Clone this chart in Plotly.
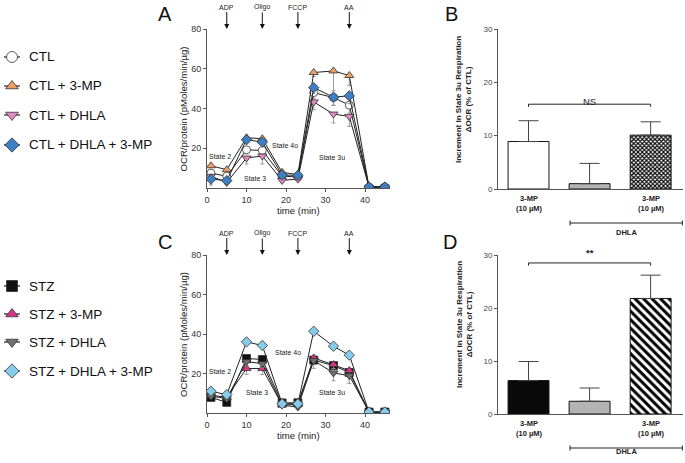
import plotly.graph_objects as go

W, H = 685, 463
FONT = "Arial, Liberation Sans, sans-serif"

# ---------------- data ----------------
time_min = [1, 5, 10, 14, 19, 23, 27, 32, 36, 41, 45]

ctl_names = ["CTL", "CTL + 3-MP", "CTL + DHLA", "CTL + DHLA + 3-MP"]
ctl_vals = [
    [7.5, 5.9, 19.2, 18.9, 6.0, 5.5, 48.0, 45.5, 41.7, 0.5, 0.5],
    [11.2, 9.2, 25.3, 24.8, 7.9, 6.7, 58.1, 58.9, 56.6, 0.5, 0.8],
    [5.9, 2.8, 15.1, 16.1, 3.8, 4.5, 43.3, 37.2, 36.0, 0.3, 0.5],
    [4.5, 3.7, 24.3, 23.1, 6.5, 6.4, 50.5, 45.7, 46.4, 0.5, 0.5],
]
ctl_err = [
    [2.0, 1.5, 2.0, 2.0, 1.0, 1.0, 3.0, 4.0, 4.0, 0, 0],
    [1.0, 1.0, 1.0, 1.0, 1.0, 1.0, 2.0, 10.0, 5.0, 0, 0],
    [2.0, 1.0, 3.0, 4.0, 1.0, 1.0, 4.0, 4.5, 5.0, 0, 0],
    [3.0, 2.0, 1.0, 1.0, 1.0, 1.0, 3.0, 4.0, 4.0, 0, 0],
]

stz_names = ["STZ", "STZ + 3-MP", "STZ + DHLA", "STZ + DHLA + 3-MP"]
stz_vals = [
    [7.9, 5.4, 27.6, 27.1, 5.1, 5.2, 26.8, 24.0, 20.5, 0.5, 0.5],
    [9.0, 8.0, 22.5, 22.5, 4.0, 4.4, 27.9, 24.5, 21.5, 0.3, 0.5],
    [8.5, 7.4, 26.0, 25.0, 4.0, 3.0, 26.6, 20.3, 18.9, 0.5, 0.5],
    [11.0, 9.3, 36.0, 34.2, 4.7, 4.7, 41.4, 33.8, 29.3, 0.5, 0.5],
]
stz_err = [
    [1.0, 1.0, 1.5, 1.5, 1.0, 1.0, 2.0, 2.0, 2.0, 0, 0],
    [1.0, 1.0, 3.0, 3.0, 1.0, 1.0, 2.0, 2.0, 2.0, 0, 0],
    [1.0, 1.0, 2.0, 2.0, 1.0, 1.0, 4.0, 4.0, 4.0, 0, 0],
    [1.0, 1.0, 1.5, 1.0, 1.0, 1.0, 1.0, 1.0, 1.0, 0, 0],
]

injections = ["ADP", "Oligo", "FCCP", "AA"]
injection_times = [5, 14, 23, 36]
state_labels = ["State 2", "State 3", "State 4o", "State 3u"]
state_pos_A = [(3.3, 15.7), (12.2, 5.0), (19.7, 21.3), (31.6, 15.3)]
state_pos_C = [(3.3, 21.0), (12.6, 10.3), (20.5, 30.4), (31.6, 10.3)]

bar_cats = [0, 1, 2]
bar_labels = ["<b>3-MP</b><br><b>(10 µM)</b>", "", "<b>3-MP</b><br><b>(10 µM)</b>"]
B_vals = [8.9, 1.0, 10.1]
B_err = [3.9, 3.8, 2.5]
D_vals = [6.3, 2.4, 21.8]
D_err = [3.6, 2.5, 4.4]

# ---------------- styles ----------------
ctl_sym = ["circle", "triangle-up", "triangle-down", "diamond"]
ctl_col = ["#ffffff", "#EE9E62", "#E38AC2", "#3D7FC2"]
stz_sym = ["square", "triangle-up", "triangle-down", "diamond"]
stz_col = ["#111111", "#D8358A", "#707070", "#86CBEA"]


def px(x):
    return x / W


def py(y):
    return 1 - y / H


fig = go.Figure()

# line panels
for names, vals, errs, syms, cols, xa, ya in [
    (ctl_names, ctl_vals, ctl_err, ctl_sym, ctl_col, "x", "y"),
    (stz_names, stz_vals, stz_err, stz_sym, stz_col, "x3", "y3"),
]:
    for n, v, e, s, c in zip(names, vals, errs, syms, cols):
        fig.add_trace(go.Scatter(
            x=time_min, y=v, name=n, mode="lines+markers",
            line=dict(color="#222222", width=1),
            marker=dict(symbol=s, size=8, color=c, line=dict(color="#333333", width=0.8)),
            error_y=dict(type="data", symmetric=False, array=[0] * len(e), arrayminus=e,
                         color="#9a9a9a", thickness=1, width=2),
            xaxis=xa, yaxis=ya, showlegend=False,
        ))

# bar panels
for vals, errs, xa, ya, kind in [(B_vals, B_err, "x2", "y2", "B"), (D_vals, D_err, "x4", "y4", "D")]:
    first = "#ffffff" if kind == "B" else "#0a0a0a"
    for i, (c, v, e) in enumerate(zip(bar_cats, vals, errs)):
        if i == 0:
            mk = dict(color=first, line=dict(color="#111", width=1))
        elif i == 1:
            mk = dict(color="#b4b4b4", line=dict(color="#111", width=1))
        else:
            if kind == "B":
                mk = dict(color="#ffffff", line=dict(color="#111", width=1),
                          pattern=dict(shape="x", fgcolor="#000", bgcolor="#fff", size=3, solidity=0.6))
            else:
                mk = dict(color="#ffffff", line=dict(color="#111", width=1),
                          pattern=dict(shape="\\", fgcolor="#000", bgcolor="#fff", size=6, solidity=0.5))
        fig.add_trace(go.Bar(
            x=[c], y=[v], width=0.67, marker=mk,
            error_y=dict(type="data", symmetric=False, array=[e], arrayminus=[0],
                         color="#444", thickness=1, width=10),
            xaxis=xa, yaxis=ya, showlegend=False,
        ))

# ---------------- axes ----------------
axfont = dict(family=FONT, size=9, color="#333")
common = dict(showline=True, linecolor="#555", linewidth=1, ticks="outside", ticklen=3,
              tickcolor="#555", showgrid=False, zeroline=False, tickfont=axfont, automargin=False)
barx = dict(showline=True, linecolor="#555", linewidth=1, showgrid=False, zeroline=False,
            tickvals=[], automargin=False)

A_x = [207, 390]
A_y = [29, 188]
C_y = [255, 413]
B_x = [498, 683]
B_y = [29, 189]
D_y = [255, 414]

fig.update_layout(
    template="none",
    width=W, height=H, autosize=False, margin=dict(l=0, r=0, t=0, b=0, pad=0),
    paper_bgcolor="white", plot_bgcolor="rgba(0,0,0,0)",
    font=dict(family=FONT, color="#222"),
    barmode="overlay", showlegend=False,
    xaxis=dict(domain=[px(A_x[0]), px(A_x[1])], range=[0, 46.3], tickvals=[0, 10, 20, 30, 40],
               anchor="y", **common),
    yaxis=dict(domain=[py(A_y[1]), py(A_y[0])], range=[0, 80], tickvals=[20, 40, 60, 80],
               anchor="x", **common),
    xaxis3=dict(domain=[px(A_x[0]), px(A_x[1])], range=[0, 46.3], tickvals=[0, 10, 20, 30, 40],
                anchor="y3", **common),
    yaxis3=dict(domain=[py(C_y[1]), py(C_y[0])], range=[0, 80], tickvals=[20, 40, 60, 80],
                anchor="x3", **common),
    xaxis2=dict(domain=[px(B_x[0]), px(B_x[1])], range=[-0.5, 2.53], anchor="y2", **barx),
    yaxis2=dict(domain=[py(B_y[1]), py(B_y[0])], range=[0, 30], tickvals=[0, 10, 20, 30],
                anchor="x2", **{**common, "tickfont": dict(family=FONT, size=8, color="#444")}),
    xaxis4=dict(domain=[px(B_x[0]), px(B_x[1])], range=[-0.5, 2.53], anchor="y4", **barx),
    yaxis4=dict(domain=[py(D_y[1]), py(D_y[0])], range=[0, 30], tickvals=[0, 10, 20, 30],
                anchor="x4", **{**common, "tickfont": dict(family=FONT, size=8, color="#444")}),
    xaxis5=dict(domain=[0, 1], range=[0, W], visible=False, fixedrange=True, anchor="y5",
                automargin=False),
    yaxis5=dict(domain=[0, 1], range=[H, 0], visible=False, fixedrange=True, anchor="x5",
                automargin=False),
)

# ---------------- legends (drawn manually) ----------------
ctl_leg_y = [57, 86, 115, 145]
stz_leg_y = [286, 314, 342, 371]
for names, syms, cols, ys in [(ctl_names, ctl_sym, ctl_col, ctl_leg_y),
                              (stz_names, stz_sym, stz_col, stz_leg_y)]:
    for n, s, c, yy in zip(names, syms, cols, ys):
        fig.add_trace(go.Scatter(
            x=[4, 20], y=[yy, yy], mode="lines", line=dict(color="#222", width=1.2),
            xaxis="x5", yaxis="y5", showlegend=False, hoverinfo="skip"))
        fig.add_trace(go.Scatter(
            x=[12], y=[yy], mode="markers",
            marker=dict(symbol=s, size=11, color=c, line=dict(color="#333", width=0.8)),
            xaxis="x5", yaxis="y5", showlegend=False, hoverinfo="skip"))
        fig.add_annotation(x=px(27), y=py(yy), xref="paper", yref="paper", text=n,
                           showarrow=False, xanchor="left", yanchor="middle",
                           font=dict(family=FONT, size=13.5, color="#111"))


# ---------------- annotations ----------------
def ann(x, y, text, size, color="#111", **kw):
    d = dict(x=px(x), y=py(y), xref="paper", yref="paper", text=text, showarrow=False,
             xanchor="center", yanchor="middle",
             font=dict(family=FONT, size=size, color=color))
    d.update(kw)
    fig.add_annotation(**d)


# panel letters
ann(165, 14, "A", 20)
ann(451, 14, "B", 20)
ann(165, 242, "C", 20)
ann(450, 242, "D", 20)

# line-plot titles
for top, bot, xa, ya, states in [(A_y[0], A_y[1], "x", "y", state_pos_A),
                                  (C_y[0], C_y[1], "x3", "y3", state_pos_C)]:
    ann(183, (top + bot) / 2, "OCR/protein (pMoles/min/µg)", 9.6, color="#222", textangle=-90)
    ann(298, bot + 22, "time (min)", 9.6, color="#222")
    for lab, t in zip(injections, injection_times):
        fig.add_annotation(x=t, y=py(top), xref=xa, yref="paper", text=lab,
                           showarrow=True, arrowhead=2, arrowsize=1, arrowwidth=1,
                           arrowcolor="#111", ax=0, ay=-22,
                           font=dict(family=FONT, size=7, color="#222"))
    for lab, (sx, sy) in zip(state_labels, states):
        fig.add_annotation(x=sx, y=sy, xref=xa, yref=ya, text=lab, showarrow=False,
                           font=dict(family=FONT, size=7, color="#222"))

# bar-panel titles, labels, brackets
for top, bot, xa, ya, bracket_y, sig, text_c in [
    (B_y[0], B_y[1], "x2", "y2", 15.9, "NS", 100),
    (D_y[0], D_y[1], "x4", "y4", 28.5, "<b>**</b>", 325),
]:
    ann(464, text_c, "<b>Increment in State 3u Respiration<br>ΔOCR (% of CTL)</b>", 8,
        color="#222", textangle=-90)
    for c, lab in zip(bar_cats, bar_labels):
        if lab:
            fig.add_annotation(x=c, y=py(bot + 3), xref=xa, yref="paper", text=lab,
                               showarrow=False, yanchor="top",
                               font=dict(family=FONT, size=7.5, color="#222"))
    # DHLA line
    ly = bot + 34
    fig.add_shape(type="line", x0=0.68, x1=2.52, y0=py(ly), y1=py(ly), xref=xa, yref="paper",
                  line=dict(color="#222", width=1))
    for xe in (0.68, 2.52):
        fig.add_shape(type="line", x0=xe, x1=xe, y0=py(ly - 2.5), y1=py(ly + 2.5), xref=xa,
                      yref="paper", line=dict(color="#222", width=1))
    fig.add_annotation(x=1.6, y=py(ly + 10), xref=xa, yref="paper", text="<b>DHLA</b>",
                       showarrow=False, font=dict(family=FONT, size=7.5, color="#222"))
    # significance bracket
    fig.add_shape(type="path",
                  path=f"M 0,{bracket_y - 0.5} L 0,{bracket_y} L 2,{bracket_y} L 2,{bracket_y - 0.5}",
                  xref=xa, yref=ya, line=dict(color="#222", width=1))
    sig_py = bot - (bracket_y + 1.9) / 30 * (bot - top)
    fig.add_annotation(x=1, y=py(sig_py), xref=xa, yref="paper", text=sig, showarrow=False,
                       font=dict(family=FONT, size=9.5, color="#222"))

fig.write_html("out.html", config={"displayModeBar": False},
               post_script="document.body.style.margin='0px';")
